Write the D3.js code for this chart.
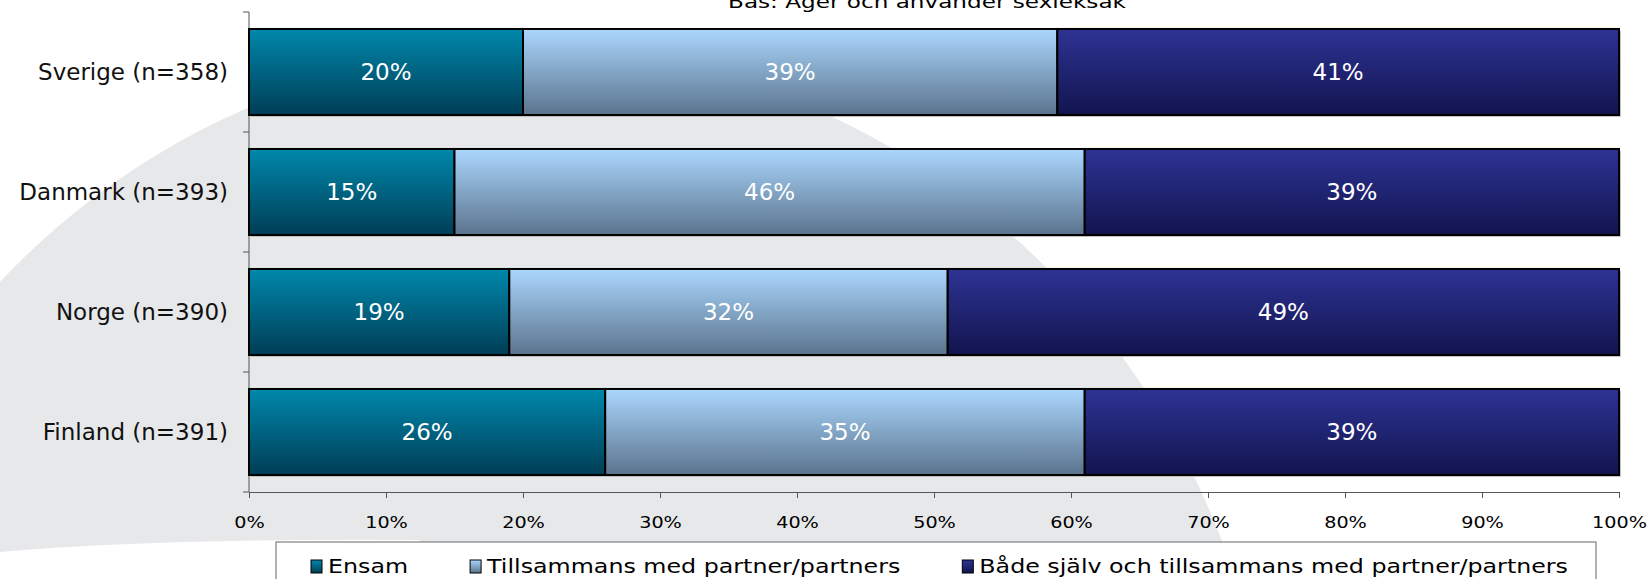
<!DOCTYPE html>
<html>
<head>
<meta charset="utf-8">
<script src="https://cdn.jsdelivr.net/npm/d3@7"></script>
<style>
  body { margin: 0; background: #fff; }
  svg { display: block; font-family: 'DejaVu Sans', Verdana, sans-serif; }
</style>
</head>
<body>
<div id="chart"></div>
<script>
const title = 'Bas: Äger och använder sexleksak'
const countries = ['Sverige (n=358)', 'Danmark (n=393)', 'Norge (n=390)', 'Finland (n=391)']
const seriesNames = ['Ensam', 'Tillsammans med partner/partners', 'Både själv och tillsammans med partner/partners']
const ensam = [20, 15, 19, 26]
const tillsammans = [39, 46, 32, 35]
const bade = [41, 39, 49, 39]
const xTicks = [0, 10, 20, 30, 40, 50, 60, 70, 80, 90, 100]

const width = 1650
const height = 579
const margin = { top: 12, left: 249, right: 31, bottom: 87 }

const svg = d3
  .select('#chart')
  .append('svg')
  .attr('width', width)
  .attr('height', height)

// gradients for the three series (top -> bottom)
const gradColors = [
  ['#0088ab', '#003d56'],
  ['#abd7fd', '#5a738d'],
  ['#2e3394', '#12144e']
]
const defs = svg.append('defs')
gradColors.forEach((c, i) => {
  const g = defs
    .append('linearGradient')
    .attr('id', 'grad' + i)
    .attr('x1', 0)
    .attr('y1', 0)
    .attr('x2', 0)
    .attr('y2', 1)
  g.append('stop').attr('offset', '0%').attr('stop-color', c[0])
  g.append('stop').attr('offset', '100%').attr('stop-color', c[1])
})

// grey background swoosh
svg
  .append('ellipse')
  .attr('cx', 530)
  .attr('cy', 830)
  .attr('rx', 745)
  .attr('ry', 780)
  .attr('fill', '#e7e8ea')
svg
  .append('path')
  .attr('d', 'M0,552 Q160,538 420,540 L420,579 L0,579 Z')
  .attr('fill', '#fff')

const x = d3
  .scaleLinear()
  .domain([0, 100])
  .range([margin.left, width - margin.right])

const y = d3
  .scaleBand()
  .domain(countries)
  .range([margin.top, height - margin.bottom])
  .paddingInner(0.283)
  .paddingOuter(0.1415)

const rows = countries.map((c, i) => ({
  country: c,
  [seriesNames[0]]: ensam[i],
  [seriesNames[1]]: tillsammans[i],
  [seriesNames[2]]: bade[i]
}))
const stacked = d3.stack().keys(seriesNames)(rows)

const axisY = height - margin.bottom

// x axis
const xAxis = svg
  .append('g')
  .attr('transform', `translate(0,${axisY})`)
  .call(
    d3
      .axisBottom(x)
      .tickValues(xTicks)
      .tickFormat(d => d + '%')
      .tickSize(6)
      .tickSizeOuter(0)
      .tickPadding(19)
  )
xAxis.selectAll('line, path').attr('stroke', '#555')
xAxis
  .selectAll('text')
  .attr('fill', '#000')
  .style('font-size', '16px')
  .style('font-family', "'DejaVu Sans', sans-serif")
  .attr('transform', 'scale(1.2,1)')

// y axis line and boundary ticks
svg
  .append('line')
  .attr('x1', x(0))
  .attr('x2', x(0))
  .attr('y1', margin.top)
  .attr('y2', axisY)
  .attr('stroke', '#555')
const bounds = countries.map(c => y(c) - (y.step() * y.paddingInner()) / 2)
bounds.push(axisY)
svg
  .selectAll('.ytick')
  .data(bounds)
  .join('line')
  .attr('class', 'ytick')
  .attr('x1', x(0) - 6)
  .attr('x2', x(0))
  .attr('y1', d => d)
  .attr('y2', d => d)
  .attr('stroke', '#555')

// category labels
const yAxis = svg
  .append('g')
  .attr('transform', `translate(${x(0)},0)`)
  .call(d3.axisLeft(y).tickSize(0).tickPadding(21))
yAxis.select('.domain').remove()
yAxis
  .selectAll('text')
  .attr('fill', '#111')
  .attr('dy', '0.36em')
  .style('font-size', '23px')
  .style('font-family', "'DejaVu Sans', sans-serif")

// bar shadows
svg
  .selectAll('.shadow')
  .data(rows)
  .join('rect')
  .attr('class', 'shadow')
  .attr('x', x(0) + 2)
  .attr('y', d => y(d.country) + 2)
  .attr('width', x(100) - x(0))
  .attr('height', y.bandwidth())
  .attr('fill', '#c4c4c4')

const layer = svg
  .selectAll('.layer')
  .data(stacked)
  .join('g')
  .attr('class', 'layer')
  .attr('fill', (d, i) => `url(#grad${i})`)

layer
  .selectAll('rect')
  .data(d => d)
  .join('rect')
  .attr('x', d => x(d[0]))
  .attr('y', d => y(d.data.country))
  .attr('width', d => x(d[1]) - x(d[0]))
  .attr('height', y.bandwidth())
  .attr('stroke', '#000')
  .attr('stroke-width', 2)

layer
  .selectAll('text')
  .data(d => d)
  .join('text')
  .attr('x', d => (x(d[0]) + x(d[1])) / 2)
  .attr('y', d => y(d.data.country) + y.bandwidth() / 2)
  .attr('dy', '0.36em')
  .attr('text-anchor', 'middle')
  .attr('fill', '#fff')
  .style('font-size', '23px')
  .text(d => d[1] - d[0] + '%')

// legend
const legend = svg.append('g')
legend
  .append('rect')
  .attr('x', 276)
  .attr('y', 542)
  .attr('width', 1320)
  .attr('height', 60)
  .attr('fill', '#fff')
  .attr('stroke', '#666')

let lx = 311
seriesNames.forEach((name, i) => {
  legend
    .append('rect')
    .attr('x', lx)
    .attr('y', 560)
    .attr('width', 11)
    .attr('height', 13)
    .attr('fill', `url(#grad${i})`)
    .attr('stroke', '#000')
  const t = legend
    .append('g')
    .attr('transform', `translate(${lx + 17},573) scale(1.25,1)`)
    .append('text')
    .attr('fill', '#000')
    .style('font-size', '19px')
    .text(name)
  lx += 17 + t.node().getComputedTextLength() * 1.25 + 62
})

// title, clipped at the top edge
svg
  .append('g')
  .attr('transform', `translate(927,8) scale(1.25,1)`)
  .append('text')
  .attr('text-anchor', 'middle')
  .attr('fill', '#000')
  .style('font-size', '18.5px')
  .text(title)
</script>
</body>
</html>
